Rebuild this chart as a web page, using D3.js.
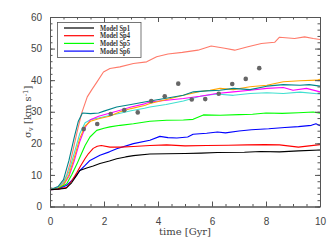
<!DOCTYPE html>
<html>
<head>
<meta charset="utf-8">
<script src="https://cdn.jsdelivr.net/npm/d3@7"></script>
<style>
  body { margin: 0; background: #fff; }
  svg { display: block; }
</style>
</head>
<body>
<div id="chart"></div>
<script>
// time grids (Gyr) and sigma_v values (km/s)
const tEarly = [0, 0.3, 0.5, 0.7, 0.9, 1.1, 1.3, 1.5, 1.8, 2.2, 2.6, 3.0, 3.5];

const sp1T = [0, 0.3, 0.6, 0.8, 1.0, 1.1, 1.36, 1.6, 1.85, 2.2, 2.47, 2.8, 3.09, 3.7, 4.32, 5.0, 5.6, 6.2, 7.2, 7.8, 8.5, 9.2, 10];
const sp1V = [5.3, 5.5, 5.8, 7.5, 10.0, 11.4, 12.2, 12.8, 13.6, 14.4, 15.1, 15.7, 16.1, 16.6, 16.7, 16.8, 16.9, 17.1, 17.2, 17.4, 17.3, 17.6, 17.9];

const sp4T = [0, 0.3, 0.62, 0.8, 1.0, 1.11, 1.3, 1.42, 1.6, 1.75, 1.9, 2.22, 2.6, 3.09, 3.7, 4.32, 5.0, 5.8, 6.6, 7.3, 7.95, 8.5, 9.2, 9.6, 10];
const sp4V = [5.3, 5.5, 6.1, 8.0, 10.8, 12.5, 15.2, 16.7, 18.4, 19.1, 19.3, 18.8, 18.8, 19.0, 19.3, 19.5, 19.2, 19.3, 19.4, 19.5, 19.6, 19.5, 18.8, 19.2, 19.6];

const sp5T = [0, 0.3, 0.62, 0.8, 1.0, 1.11, 1.3, 1.48, 1.73, 2.0, 2.22, 2.6, 3.09, 3.7, 4.32, 4.94, 5.3, 5.68, 6.3, 7.0, 7.5, 8.0, 8.6, 9.2, 9.75, 10];
const sp5V = [5.3, 5.6, 7.2, 10.0, 13.5, 15.7, 19.3, 22.0, 24.1, 24.8, 25.2, 25.7, 26.2, 27.0, 27.3, 27.4, 27.6, 29.0, 28.9, 29.1, 29.2, 29.6, 29.5, 29.7, 29.9, 29.5];

const sp6T = [0, 0.3, 0.62, 0.8, 1.0, 1.11, 1.3, 1.48, 1.85, 2.2, 2.47, 3.09, 3.7, 4.07, 4.37, 4.7, 5.1, 5.3, 5.8, 6.2, 6.5, 7.0, 7.46, 8.1, 8.7, 9.2, 9.68, 9.85, 10];
const sp6V = [5.3, 5.5, 6.7, 8.2, 10.2, 11.4, 13.0, 14.6, 16.2, 17.3, 18.3, 19.9, 21.0, 22.2, 21.8, 21.7, 22.0, 22.9, 23.2, 23.6, 23.3, 23.9, 24.3, 24.6, 25.0, 25.3, 25.7, 26.2, 25.6];

const salmonT = [0, 0.2, 0.35, 0.49, 0.62, 0.74, 0.87, 1.0, 1.17, 1.38, 1.55, 1.73, 1.98, 2.22, 2.59, 3.09, 3.58, 3.95, 4.37, 4.9, 5.48, 5.97, 6.47, 6.84, 7.33, 7.83, 8.32, 8.5, 9.06, 9.43, 9.75, 10];
const salmonV = [5.3, 5.7, 6.4, 7.7, 10.0, 13.5, 18.5, 23.5, 29.5, 34.7, 37.0, 39.3, 42.6, 43.7, 44.2, 45.3, 45.8, 47.4, 48.3, 48.8, 49.5, 50.8, 50.1, 49.5, 50.6, 51.6, 52.0, 53.6, 53.2, 53.7, 53.2, 52.9];

const tealT = [0, 0.3, 0.5, 0.7, 0.9, 1.05, 1.2, 1.5, 1.8, 2.0, 2.47, 3.0, 3.7, 4.3, 4.94, 5.31, 5.8, 6.3, 6.79, 7.41, 8.03, 8.64, 9.26, 9.6, 10];
const tealV = [5.3, 6.3, 8.5, 14.5, 22.0, 27.0, 29.6, 29.4, 29.6, 30.2, 31.5, 32.3, 33.4, 34.3, 35.2, 36.3, 36.6, 36.8, 37.4, 37.0, 38.1, 38.6, 38.4, 38.6, 38.1];

const turqT = tEarly.concat([3.7, 4.3, 4.94, 5.56, 6.17, 6.79, 7.41, 8.03, 8.64, 9.26, 10]);
const turqV = [5.3, 6.0, 7.5, 11.0, 17.0, 23.0, 26.5, 27.5, 28.0, 28.8, 29.5, 30.3, 31.1,
               31.5, 32.3, 33.4, 34.9, 35.6, 35.2, 35.8, 36.0, 35.8, 36.2, 35.6];

const orangeT = tEarly.concat([3.7, 4.32, 4.94, 5.56, 5.93, 6.3, 6.79, 7.41, 8.03, 8.64, 9.26, 9.88, 10]);
const orangeV = [5.3, 5.8, 7.0, 10.0, 15.5, 21.5, 25.5, 27.0, 27.8, 28.6, 30.0, 31.0, 32.0,
                 32.6, 33.9, 35.2, 36.4, 36.8, 37.4, 37.0, 37.9, 38.4, 39.5, 39.8, 40.0, 40.3];

const magentaT = tEarly.concat([3.7, 4.94, 5.56, 6.17, 6.79, 7.41, 8.03, 8.64, 9.0, 9.5, 10]);
const magentaV = [5.3, 5.8, 6.8, 9.5, 14.5, 20.5, 25.0, 27.5, 28.6, 29.5, 30.5, 31.5, 32.5,
                  33.1, 34.2, 34.9, 35.8, 36.3, 36.8, 37.4, 37.7, 36.8, 37.4, 36.3];

// grey dots
const dotT = [1.25, 1.75, 2.25, 2.75, 3.25, 3.75, 4.25, 4.75, 5.25, 5.75, 6.25, 6.75, 7.25, 7.75];
const dotV = [24.5, 26.1, 29.3, 30.5, 29.8, 33.4, 34.9, 38.9, 33.9, 34.0, 35.7, 38.8, 40.4, 43.8];

const legendNames = ["Model Sp1", "Model Sp4", "Model Sp5", "Model Sp6"];
const xTicks = [0, 2, 4, 6, 8, 10];
const yTicks = [0, 10, 20, 30, 40, 50, 60];

const series = [
    {t: salmonT, v: salmonV, color: "#ff7a6a"},
    {t: turqT, v: turqV, color: "#40e0d0"},
    {t: magentaT, v: magentaV, color: "#ff00ff"},
    {t: orangeT, v: orangeV, color: "#ffa500"},
    {t: tealT, v: tealV, color: "#00868b"},
    {t: sp5T, v: sp5V, color: "#00ff00"},
    {t: sp6T, v: sp6V, color: "#0000ff"},
    {t: sp4T, v: sp4V, color: "#ff0000"},
    {t: sp1T, v: sp1V, color: "#000000"}
];
const legendColors = ["#000000", "#ff0000", "#00ff00", "#0000ff"];

const W = 336, H = 240;
const margin = {left: 50, right: 320, top: 17, bottom: 206.5};
const axisColor = "#555";

const svg = d3.select("#chart").append("svg")
    .attr("width", W).attr("height", H);

const xScale = d3.scaleLinear().domain([0, 10]).range([margin.left, margin.right]);
const yScale = d3.scaleLinear().domain([0, 60]).range([margin.bottom, margin.top]);

// curves
const line = d3.line().x(d => xScale(d[0])).y(d => yScale(d[1]));
const curvesG = svg.append("g").attr("class", "curvesG");
series.forEach(s => {
    curvesG.append("path")
        .datum(s.t.map((t, i) => [t, s.v[i]]))
        .attr("d", line)
        .attr("fill", "none")
        .attr("stroke", s.color)
        .attr("stroke-width", 1.1)
        .attr("stroke-linejoin", "round");
});

// dots
svg.append("g").selectAll("circle")
    .data(dotT.map((t, i) => [t, dotV[i]]))
    .join("circle")
    .attr("cx", d => xScale(d[0]))
    .attr("cy", d => yScale(d[1]))
    .attr("r", 2.3)
    .attr("fill", "#666");

// axes, ticks pointing inward on all four sides
function styleAxis(g){
    g.select(".domain").attr("stroke", axisColor);
    g.selectAll(".tick line").attr("stroke", axisColor);
    g.selectAll(".tick text")
        .attr("fill", "#444")
        .style("font-family", "'Liberation Sans', Arial, sans-serif")
        .style("font-size", "10px");
}
const xMinor = d3.range(0, 10.01, 0.5);
const yMinor = d3.range(0, 60.01, 2);

svg.append("g").attr("transform", "translate(0," + margin.bottom + ")")
    .call(d3.axisBottom(xScale).tickValues(xMinor).tickSize(-2.5).tickFormat("").tickSizeOuter(0))
    .call(styleAxis);
svg.append("g").attr("transform", "translate(0," + margin.bottom + ")")
    .call(d3.axisBottom(xScale).tickValues(xTicks).tickSize(-5).tickPadding(11).tickSizeOuter(0).tickFormat(d3.format("d")))
    .call(styleAxis);
svg.append("g").attr("transform", "translate(0," + margin.top + ")")
    .call(d3.axisTop(xScale).tickValues(xMinor).tickSize(-2.5).tickFormat("").tickSizeOuter(0))
    .call(styleAxis);
svg.append("g").attr("transform", "translate(0," + margin.top + ")")
    .call(d3.axisTop(xScale).tickValues(xTicks).tickSize(-5).tickFormat("").tickSizeOuter(0))
    .call(styleAxis);
svg.append("g").attr("transform", "translate(" + margin.left + ",0)")
    .call(d3.axisLeft(yScale).tickValues(yMinor).tickSize(-2.5).tickFormat("").tickSizeOuter(0))
    .call(styleAxis);
svg.append("g").attr("transform", "translate(" + margin.left + ",0)")
    .call(d3.axisLeft(yScale).tickValues(yTicks).tickSize(-5).tickPadding(8).tickSizeOuter(0).tickFormat(d3.format("d")))
    .call(styleAxis);
svg.append("g").attr("transform", "translate(" + margin.right + ",0)")
    .call(d3.axisRight(yScale).tickValues(yMinor).tickSize(-2.5).tickFormat("").tickSizeOuter(0))
    .call(styleAxis);
svg.append("g").attr("transform", "translate(" + margin.right + ",0)")
    .call(d3.axisRight(yScale).tickValues(yTicks).tickSize(-5).tickFormat("").tickSizeOuter(0))
    .call(styleAxis);

// axis titles
const serif = "'DejaVu Serif', 'Liberation Serif', serif";
svg.append("text")
    .attr("x", 185).attr("y", 235)
    .attr("text-anchor", "middle")
    .attr("fill", "#444")
    .style("font-family", serif).style("font-size", "10px")
    .text("time [Gyr]");

const yTitle = svg.append("text")
    .attr("transform", "translate(31," + ((margin.top + margin.bottom) / 2) + ") rotate(-90)")
    .attr("text-anchor", "middle")
    .attr("fill", "#444")
    .style("font-family", serif).style("font-size", "10px");
yTitle.append("tspan").text("σ");
yTitle.append("tspan").attr("dy", 2).style("font-size", "7px").text("v");
yTitle.append("tspan").attr("dy", -2).text(" [km s");
yTitle.append("tspan").attr("dy", -3.5).style("font-size", "7px").text("-1");
yTitle.append("tspan").attr("dy", 3.5).text("]");

// legend
const legendG = svg.append("g").attr("class", "legendG");
legendG.append("rect")
    .attr("x", 57.5).attr("y", 22.5).attr("width", 83.5).attr("height", 35)
    .attr("fill", "#fff").attr("stroke", axisColor).attr("stroke-width", 0.8);
legendNames.forEach((name, i) => {
    const yy = 28 + i * 7.7;
    legendG.append("line")
        .attr("x1", 64).attr("x2", 94).attr("y1", yy).attr("y2", yy)
        .attr("stroke", legendColors[i]).attr("stroke-width", 1.2);
    legendG.append("text")
        .attr("x", 100).attr("y", yy + 2.5)
        .attr("fill", "#333")
        .attr("textLength", 30).attr("lengthAdjust", "spacingAndGlyphs")
        .style("font-family", "'Liberation Serif', serif").style("font-size", "7.5px").style("font-weight", "bold")
        .text(name);
});
</script>
</body>
</html>
